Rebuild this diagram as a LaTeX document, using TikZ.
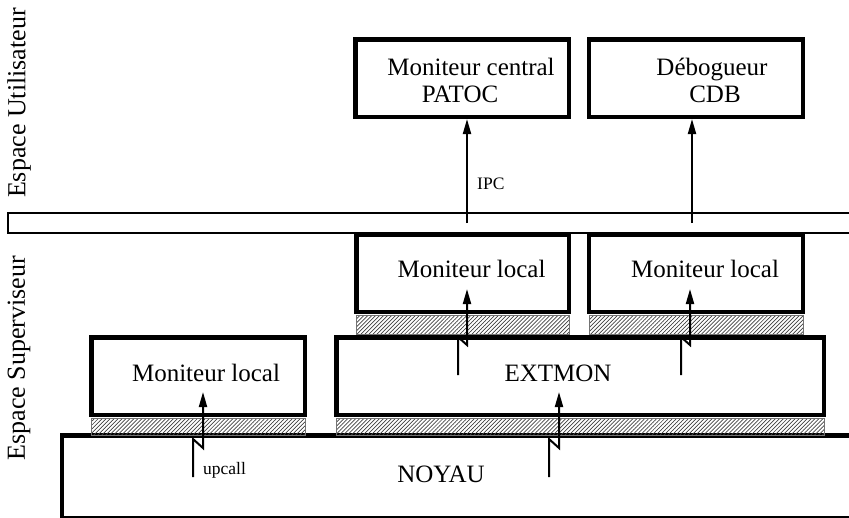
\documentclass[tikz,border=0pt]{standalone}
\usepackage{fontspec}
\setmainfont{Liberation Serif}
\usetikzlibrary{arrows.meta,patterns.meta}

\tikzset{
  box/.style={draw, line width=4.5pt, inner sep=0pt, minimum height=77.5pt},
  glue/.style={draw=black!55, line width=0.6pt,
    pattern={Lines[angle=45,distance=2.8pt,line width=0.7pt]}, pattern color=black!75},
  flow/.style={-{Triangle[length=15pt,width=8pt]}, line width=2pt},
  txt/.style={font=\fontsize{25}{27}\selectfont, anchor=base, inner sep=0pt},
  tag/.style={font=\fontsize{17.5}{19}\selectfont, anchor=base west, inner sep=0pt},
  side/.style={font=\fontsize{26}{28}\selectfont, rotate=90, inner sep=0pt},
}

\begin{document}
\begin{tikzpicture}[x=1pt,y=-1pt]
  \useasboundingbox (0,0) rectangle (849,517);

  % noyau and user/supervisor border
  \draw[line width=4.5pt] (62,435.5) rectangle (880,518);
  \draw[line width=1.2pt] (8,213) rectangle (880,233);

  % hatched strips
  \draw[glue] (91,418) rectangle (305,435);
  \draw[glue] (336,418) rectangle (824,435);
  \draw[glue] (356,315) rectangle (569,334);
  \draw[glue] (589,315) rectangle (803,334);

  % boxes
  \node[box, minimum width=213.5pt] (patoc) at (462,78) {};
  \node[box, minimum width=214pt] (cdb) at (696,78) {};
  \node[box, minimum width=212.5pt] (loc1) at (462.5,273) {};
  \node[box, minimum width=214pt] (loc2) at (696,273) {};
  \node[box, minimum width=487.5pt] (extmon) at (580,376) {};
  \node[box, minimum width=213.5pt] (loc0) at (198,376) {};

  % texts
  \node[txt] (t1) at (471,75) {Moniteur central};
  \node[txt] (t2) at (460,102) {PATOC};
  \node[txt] (t3) at (712,75) {Débogueur};
  \node[txt] (t4) at (715,102) {CDB};
  \node[txt] (t5) at (471.5,277) {Moniteur local};
  \node[txt] (t6) at (705,277) {Moniteur local};
  \node[txt] (t7) at (206,381) {Moniteur local};
  \node[txt] (t8) at (558,381) {EXTMON};
  \node[txt] (t9) at (441,482) {NOYAU};
  \node[tag] (ipc) at (477,189) {IPC};
  \node[tag] (upc) at (203,474) {upcall};
  \node[side] (user) at (19,103) {Espace Utilisateur};
  \node[side] (super) at (19,358) {Espace Superviseur};

  % arrow ends
  \coordinate (s1) at (467,223);
  \coordinate (s2) at (692,223);
  \coordinate (s3) at (458,375);
  \coordinate (s4) at (681,375);
  \coordinate (s5) at (193,477);
  \coordinate (s6) at (549,477);
  \coordinate (e3) at (467,289);
  \coordinate (e4) at (690,289);
  \coordinate (e5) at (203,392);
  \coordinate (e6) at (559,392);

  \draw[flow] (s1) -- (s1 |- patoc.south);
  \draw[flow] (s2) -- (s2 |- cdb.south);
  \draw[flow] (s3) -- ++(0,-38) -- ++(9,8) -- (e3);
  \draw[flow] (s4) -- ++(0,-38) -- ++(9,8) -- (e4);
  \draw[flow] (s5) -- ++(0,-38) -- ++(10,9) -- (e5);
  \draw[flow] (s6) -- ++(0,-38) -- ++(10,9) -- (e6);
\end{tikzpicture}
\end{document}
